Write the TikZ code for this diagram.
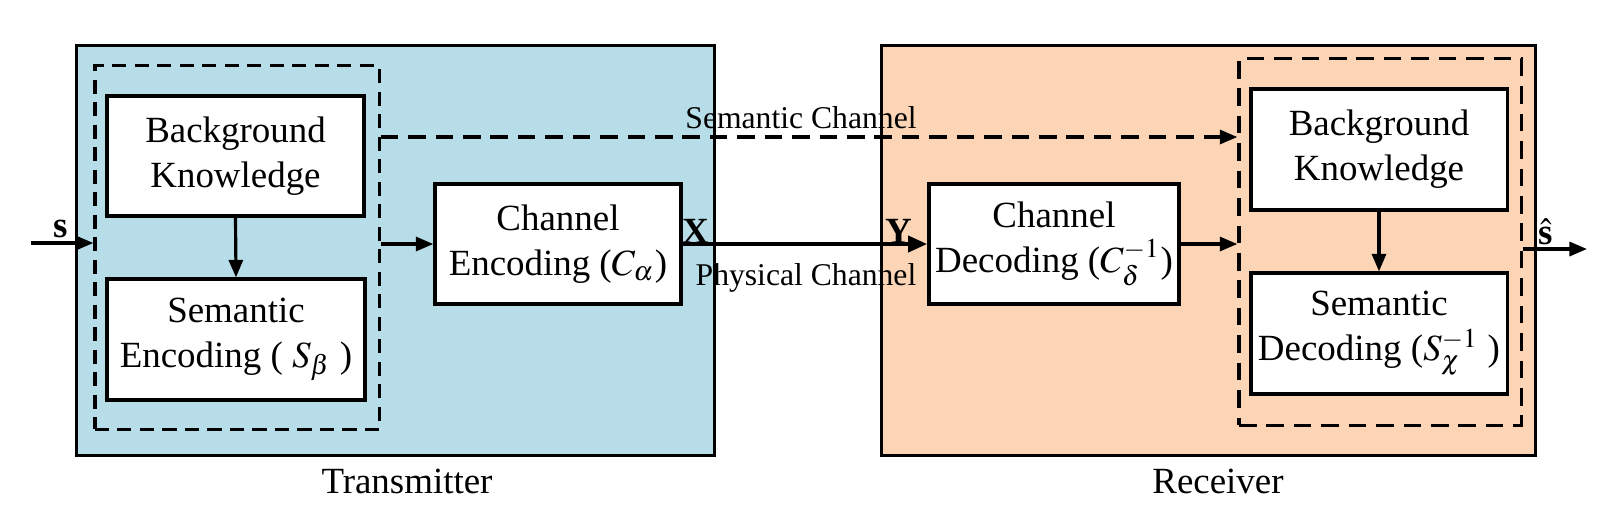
\documentclass[tikz,border=0pt]{standalone}
\usepackage{mathptmx}
\usepackage{fontspec}
\setmainfont{Liberation Serif}
\usetikzlibrary{arrows.meta}

\definecolor{txblue}{RGB}{183,221,232}
\definecolor{rxpeach}{RGB}{251,213,181}

\tikzset{
  unit/.style={draw, line width=0.9pt, inner sep=0pt},
  grp/.style={draw, line width=0.9pt, dash pattern=on 4pt off 2.4pt, inner sep=0pt},
  blk/.style={draw, line width=0.9pt, fill=white, align=center, inner sep=0pt,
    minimum height=1.2cm, font=\fontsize{10.5}{12.8}\selectfont},
  arr/.style={line width=0.9pt, -{Triangle[length=5pt,width=4pt]}},
  lbl/.style={inner sep=0pt, font=\fontsize{10.5}{12.8}\selectfont},
  chn/.style={inner sep=0pt, font=\fontsize{9}{11}\selectfont}
}

\begin{document}
\begin{tikzpicture}[x=0.01cm,y=-0.01cm]
\useasboundingbox (0,0) rectangle (1605,529);

% transmitter and receiver
\node[unit, fill=txblue, minimum width=6.37cm, minimum height=4.09cm] (tx) at (395.5,250.5) {};
\node[unit, fill=rxpeach, minimum width=6.53cm, minimum height=4.09cm] (rx) at (1208.5,250.5) {};
\node[lbl] (txname) at (407,481) {Transmitter};
\node[lbl] (rxname) at (1218,481) {Receiver};

\node[grp, minimum width=2.84cm, minimum height=3.63cm] (txdash) at (237,247.5) {};
\node[grp, dash pattern=on 5pt off 2.8pt, minimum width=2.82cm, minimum height=3.66cm] (rxdash) at (1380,242) {};

\node[blk, minimum width=2.57cm] (txbk) at (235.5,156) {Background\\Knowledge};
\node[blk, minimum width=2.58cm, minimum height=1.21cm] (txse) at (236,339.5) {Semantic\\Encoding ( $S_\beta$ )};
\node[blk, minimum width=2.46cm] (ce) at (558,244) {Channel\\Encoding ($C_\alpha$)};
\node[blk, minimum width=2.50cm] (cd) at (1054,244) {Channel\\Decoding ($C_\delta^{-1}$)};
\node[blk, minimum width=2.56cm, minimum height=1.21cm] (rxbk) at (1379,149.5) {Background\\Knowledge};
\node[blk, minimum width=2.56cm, minimum height=1.21cm] (rxsd) at (1379,333.5) {Semantic\\Decoding ($S_\chi^{-1}$ )};

% free ends
\coordinate (sin) at (31,243);
\coordinate (sout) at (1587,249);
\coordinate (semy) at (0,137);

\draw[arr] (sin) -- (sin -| txdash.west);
\draw[arr] (txbk.south) -- (txse.north);
\draw[arr] (txdash.east |- ce.west) -- (ce.west);
\draw[line width=1.3pt, -{Triangle[length=5.5pt,width=4.5pt]}] (ce.east) -- (cd.west);
\draw[arr, dash pattern=on 5pt off 2.8pt] (txdash.east |- semy) -- (rxdash.west |- semy);
\draw[arr] (cd.east) -- (cd.east -| rxdash.west);
\draw[arr] (rxbk.south) -- (rxsd.north);
\draw[arr] (sout -| rxdash.east) -- (sout);

% signal and channel labels
\node[lbl] (slbl) at (61,229) {\textbf{s}};
\node[lbl] (xlbl) at (696,231) {\textbf{X}};
\node[lbl] (ylbl) at (899,231) {\textbf{Y}};
\node[lbl] (shatlbl) at (1546,232) {$\hat{\textbf{s}}$};
\node[chn] (semlbl) at (801,118) {Semantic Channel};
\node[chn] (phylbl) at (806,278) {Physical Channel};
\end{tikzpicture}
\end{document}
